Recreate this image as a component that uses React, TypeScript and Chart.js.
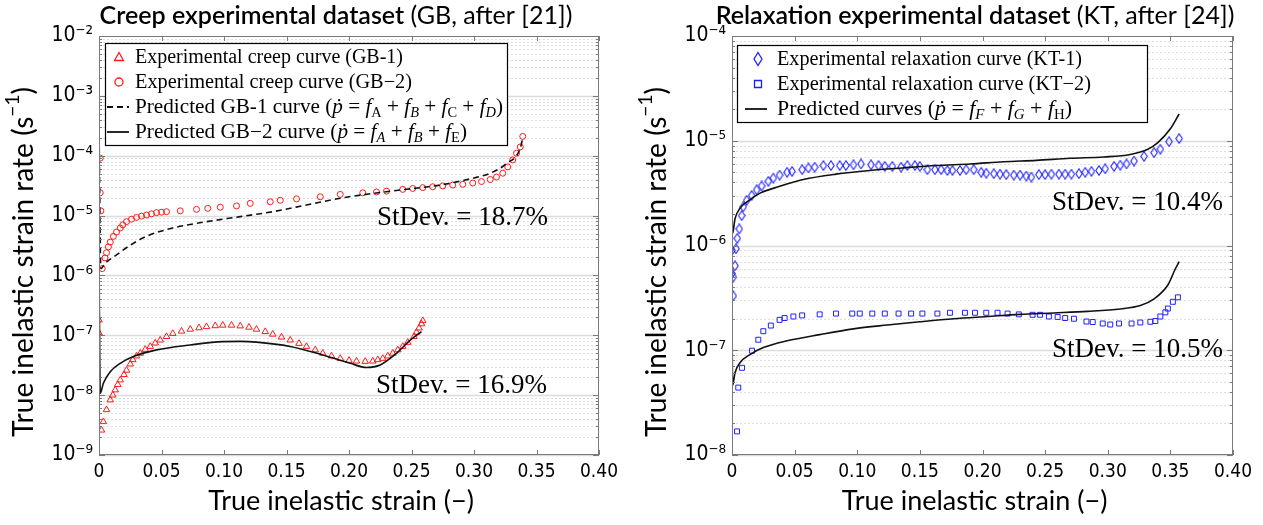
import React, { useEffect, useRef } from 'react';
import { Chart, registerables } from 'chart.js';
Chart.register(...registerables);

// ---------------- DATA ----------------
// Left panel: creep dataset (GB)
const gb1ExpStrain = [0, 0, 0.002, 0.0035, 0.006, 0.009, 0.011, 0.013, 0.015, 0.017, 0.02, 0.022, 0.025, 0.027, 0.03, 0.033, 0.037, 0.041, 0.045, 0.049, 0.054, 0.059, 0.066, 0.073, 0.08, 0.086, 0.093, 0.099, 0.106, 0.113, 0.12, 0.126, 0.133, 0.139, 0.146, 0.153, 0.16, 0.166, 0.173, 0.179, 0.186, 0.193, 0.2, 0.206, 0.213, 0.219, 0.223, 0.227, 0.231, 0.235, 0.239, 0.243, 0.247, 0.252, 0.254, 0.256, 0.258, 0.259];
const gb1ExpRate = [1.8e-7, 1.1e-7, 2.6e-9, 3.6e-9, 5.7e-9, 8.3e-9, 1.0e-8, 1.22e-8, 1.5e-8, 1.79e-8, 2.2e-8, 2.6e-8, 3.3e-8, 3.9e-8, 4.5e-8, 5.0e-8, 5.8e-8, 6.5e-8, 7.4e-8, 8.3e-8, 9.5e-8, 1.07e-7, 1.17e-7, 1.26e-7, 1.33e-7, 1.39e-7, 1.44e-7, 1.47e-7, 1.47e-7, 1.43e-7, 1.36e-7, 1.26e-7, 1.15e-7, 1.04e-7, 9.3e-8, 8.3e-8, 7.3e-8, 6.5e-8, 5.7e-8, 5.0e-8, 4.5e-8, 4.1e-8, 3.8e-8, 3.7e-8, 3.65e-8, 3.7e-8, 3.9e-8, 4.1e-8, 4.5e-8, 5.0e-8, 5.7e-8, 6.5e-8, 7.6e-8, 9.5e-8, 1.12e-7, 1.32e-7, 1.55e-7, 1.75e-7];

const gb2ExpStrain = [0.001, 0.001, 0.0015, 0.0025, 0.0048, 0.006, 0.0075, 0.009, 0.0115, 0.014, 0.017, 0.019, 0.022, 0.026, 0.03, 0.034, 0.038, 0.042, 0.046, 0.05, 0.054, 0.065, 0.078, 0.087, 0.097, 0.11, 0.121, 0.137, 0.145, 0.158, 0.177, 0.193, 0.211, 0.222, 0.23, 0.243, 0.251, 0.259, 0.267, 0.275, 0.283, 0.291, 0.299, 0.306, 0.313, 0.318, 0.323, 0.327, 0.331, 0.334, 0.337, 0.339];
const gb2ExpRate = [9.1e-5, 2.4e-5, 1.2e-5, 1.3e-6, 1.96e-6, 2.4e-6, 3.0e-6, 3.6e-6, 4.5e-6, 5.3e-6, 6.2e-6, 7.0e-6, 7.9e-6, 8.7e-6, 9.3e-6, 9.8e-6, 1.02e-5, 1.07e-5, 1.12e-5, 1.14e-5, 1.16e-5, 1.2e-5, 1.27e-5, 1.32e-5, 1.38e-5, 1.45e-5, 1.6e-5, 1.7e-5, 1.8e-5, 1.9e-5, 2.06e-5, 2.26e-5, 2.4e-5, 2.48e-5, 2.56e-5, 2.74e-5, 2.84e-5, 2.93e-5, 3.03e-5, 3.13e-5, 3.23e-5, 3.33e-5, 3.5e-5, 3.7e-5, 4.0e-5, 4.4e-5, 5.1e-5, 6.5e-5, 8.5e-5, 1.1e-4, 1.4e-4, 2.1e-4];

const gb1PredStrain = [0, 0.0015, 0.005, 0.014, 0.025, 0.038, 0.059, 0.086, 0.113, 0.139, 0.166, 0.193, 0.219, 0.246, 0.273, 0.299, 0.313, 0.326, 0.337, 0.339];
const gb1PredRate = [3e-4, 1.3e-6, 1.6e-6, 2.2e-6, 3.2e-6, 4.5e-6, 6.2e-6, 7.9e-6, 9.6e-6, 1.16e-5, 1.5e-5, 1.95e-5, 2.34e-5, 2.75e-5, 3.24e-5, 4.2e-5, 5.1e-5, 7.4e-5, 1.33e-4, 2.0e-4];

const gb2PredStrain = [0, 0.001, 0.0035, 0.009, 0.017, 0.027, 0.046, 0.073, 0.099, 0.113, 0.126, 0.153, 0.179, 0.201, 0.214, 0.225, 0.238, 0.249, 0.258];
const gb2PredRate = [2e-6, 1.07e-8, 1.58e-8, 2.46e-8, 3.4e-8, 4.37e-8, 5.7e-8, 6.9e-8, 7.85e-8, 7.9e-8, 7.7e-8, 6.5e-8, 4.7e-8, 3.4e-8, 2.9e-8, 3.2e-8, 5.0e-8, 8.3e-8, 1.15e-7];

// Right panel: relaxation dataset (KT)
const kt1ExpStrain = [0, 0.001, 0.001, 0, 0.0024, 0.0032, 0.0042, 0.0058, 0.0077, 0.009, 0.0117, 0.0157, 0.0197, 0.0237, 0.029, 0.033, 0.038, 0.044, 0.048, 0.056, 0.061, 0.066, 0.073, 0.079, 0.086, 0.091, 0.097, 0.103, 0.111, 0.117, 0.122, 0.128, 0.135, 0.14, 0.146, 0.15, 0.156, 0.162, 0.167, 0.172, 0.176, 0.182, 0.187, 0.193, 0.199, 0.203, 0.209, 0.214, 0.219, 0.225, 0.23, 0.235, 0.239, 0.245, 0.25, 0.255, 0.261, 0.266, 0.271, 0.277, 0.282, 0.287, 0.293, 0.298, 0.305, 0.31, 0.315, 0.321, 0.329, 0.337, 0.342, 0.349, 0.357];
const kt1ExpRate = [5.4e-7, 5.0e-7, 3.3e-7, 9.0e-7, 6.4e-7, 9.3e-7, 1.17e-6, 1.44e-6, 1.93e-6, 2.34e-6, 2.7e-6, 3.0e-6, 3.4e-6, 3.7e-6, 4.1e-6, 4.4e-6, 4.7e-6, 5.0e-6, 5.1e-6, 5.3e-6, 5.5e-6, 5.6e-6, 5.8e-6, 5.8e-6, 5.8e-6, 5.8e-6, 5.9e-6, 6.0e-6, 5.9e-6, 5.8e-6, 5.7e-6, 5.7e-6, 5.6e-6, 5.8e-6, 5.8e-6, 5.7e-6, 5.3e-6, 5.3e-6, 5.3e-6, 5.2e-6, 5.2e-6, 5.2e-6, 5.3e-6, 5.3e-6, 5.0e-6, 4.9e-6, 4.85e-6, 4.8e-6, 4.75e-6, 4.7e-6, 4.7e-6, 4.6e-6, 4.5e-6, 4.75e-6, 4.75e-6, 4.8e-6, 4.8e-6, 4.8e-6, 4.8e-6, 4.85e-6, 5.0e-6, 5.1e-6, 5.2e-6, 5.4e-6, 5.7e-6, 5.85e-6, 6.0e-6, 6.4e-6, 7.1e-6, 7.7e-6, 8.3e-6, 9.8e-6, 1.05e-5];

const kt2ExpStrain = [0.004, 0.005, 0.008, 0.016, 0.021, 0.025, 0.031, 0.038, 0.042, 0.049, 0.056, 0.07, 0.083, 0.096, 0.102, 0.112, 0.122, 0.133, 0.143, 0.152, 0.164, 0.174, 0.186, 0.194, 0.203, 0.212, 0.22, 0.229, 0.24, 0.246, 0.253, 0.26, 0.266, 0.273, 0.283, 0.288, 0.296, 0.302, 0.309, 0.319, 0.326, 0.334, 0.338, 0.342, 0.346, 0.348, 0.352, 0.356];
const kt2ExpRate = [1.68e-8, 4.4e-8, 6.8e-8, 9.9e-8, 1.26e-7, 1.52e-7, 1.72e-7, 1.95e-7, 2.03e-7, 2.1e-7, 2.15e-7, 2.2e-7, 2.24e-7, 2.24e-7, 2.24e-7, 2.24e-7, 2.24e-7, 2.24e-7, 2.24e-7, 2.24e-7, 2.24e-7, 2.28e-7, 2.28e-7, 2.28e-7, 2.28e-7, 2.28e-7, 2.24e-7, 2.2e-7, 2.18e-7, 2.18e-7, 2.1e-7, 2.08e-7, 2.03e-7, 2.0e-7, 1.88e-7, 1.86e-7, 1.8e-7, 1.76e-7, 1.8e-7, 1.8e-7, 1.84e-7, 1.87e-7, 1.9e-7, 2.1e-7, 2.3e-7, 2.5e-7, 2.9e-7, 3.2e-7];

const kt1PredStrain = [0, 0.0005, 0.0024, 0.0064, 0.0117, 0.0224, 0.038, 0.057, 0.083, 0.11, 0.136, 0.163, 0.19, 0.217, 0.243, 0.27, 0.297, 0.318, 0.332, 0.34, 0.35, 0.357];
const kt1PredRate = [2.2e-6, 1.3e-6, 1.8e-6, 2.27e-6, 2.6e-6, 3.16e-6, 3.67e-6, 4.27e-6, 4.8e-6, 5.2e-6, 5.5e-6, 5.8e-6, 6.0e-6, 6.3e-6, 6.5e-6, 6.8e-6, 7.0e-6, 7.4e-6, 8.3e-6, 9.6e-6, 1.3e-5, 1.8e-5];

const kt2PredStrain = [0, 0.0005, 0.0024, 0.0064, 0.0144, 0.025, 0.044, 0.07, 0.097, 0.124, 0.15, 0.177, 0.204, 0.23, 0.257, 0.284, 0.31, 0.326, 0.337, 0.348, 0.354, 0.357];
const kt2PredRate = [2.0e-7, 4.6e-8, 6.1e-8, 7.6e-8, 9.1e-8, 1.06e-7, 1.23e-7, 1.41e-7, 1.6e-7, 1.74e-7, 1.87e-7, 2.0e-7, 2.1e-7, 2.2e-7, 2.27e-7, 2.35e-7, 2.48e-7, 2.67e-7, 3.1e-7, 4.2e-7, 6.0e-7, 7.0e-7];

// Axes
const xTickValues = [0, 0.05, 0.1, 0.15, 0.2, 0.25, 0.3, 0.35, 0.4];
const xTickLabels = ['0', '0.05', '0.10', '0.15', '0.20', '0.25', '0.30', '0.35', '0.40'];
const leftYTicks = [1e-9, 1e-8, 1e-7, 1e-6, 1e-5, 1e-4, 1e-3, 1e-2];
const rightYTicks = [1e-8, 1e-7, 1e-6, 1e-5, 1e-4];

// Texts
const leftTitleBold = 'Creep experimental dataset';
const leftTitleRest = ' (GB, after [21])';
const rightTitleBold = 'Relaxation experimental dataset';
const rightTitleRest = ' (KT, after [24])';
const yTitleMain = 'True inelastic strain rate (s';
const xTitle = 'True inelastic strain (\u2212)';
const leftStdevs = ['StDev. = 18.7%', 'StDev. = 16.9%'];
const rightStdevs = ['StDev. = 10.4%', 'StDev. = 10.5%'];

// ---------------- STYLE ----------------
const TICK_FONT = '"Liberation Sans Narrow", "DejaVu Sans Condensed", "Liberation Sans", sans-serif';
const SANS = 'Lato, "Open Sans", sans-serif';
const SERIF = '"Liberation Serif", "DejaVu Serif", serif';
const RED = '#ff1a1a';
const BLUE = '#2020ff';

type Seg = { t: string; i?: boolean; sub?: boolean; sup?: boolean; b?: boolean };

function segFont(s: Seg, size: number, fam: string) {
  const fs = s.sub || s.sup ? size * 0.68 : size;
  return `${s.i ? 'italic ' : ''}${s.b ? '600 ' : ''}${fs}px ${fam}`;
}
function richWidth(ctx: CanvasRenderingContext2D, segs: Seg[], size: number, fam: string) {
  let w = 0;
  for (const s of segs) { ctx.font = segFont(s, size, fam); w += ctx.measureText(s.t).width; }
  return w;
}
function drawRich(ctx: CanvasRenderingContext2D, segs: Seg[], x: number, y: number, size: number, fam: string) {
  let cx = x;
  for (const s of segs) {
    ctx.font = segFont(s, size, fam);
    const dy = s.sub ? size * 0.22 : s.sup ? -size * 0.4 : 0;
    ctx.fillText(s.t, cx, y + dy);
    cx += ctx.measureText(s.t).width;
  }
}
function drawRichFit(ctx: CanvasRenderingContext2D, segs: Seg[], x: number, xEnd: number, y: number, size: number, fam: string) {
  const w = richWidth(ctx, segs, size, fam);
  const k = (xEnd - x) / w;
  ctx.save();
  ctx.translate(x, y);
  ctx.scale(k, 1);
  drawRich(ctx, segs, 0, 0, size, fam);
  ctx.restore();
}

const sup: Record<string, string> = { '-': '\u207B', '0': '\u2070', '1': '\u00B9', '2': '\u00B2', '3': '\u00B3', '4': '\u2074', '5': '\u2075', '6': '\u2076', '7': '\u2077', '8': '\u2078', '9': '\u2079' };
const powLabel = (v: number) => '10' + String(Math.round(Math.log10(v))).split('').map((c) => sup[c]).join('');

const toXY = (xs: number[], ys: number[]) => xs.map((x, i) => ({ x, y: ys[i] }));

function makeDiamond(color: string) {
  const c = document.createElement('canvas');
  c.width = 8; c.height = 11;
  const g = c.getContext('2d')!;
  g.strokeStyle = color; g.lineWidth = 1.1;
  g.beginPath(); g.moveTo(4, 0.8); g.lineTo(7.2, 5.5); g.lineTo(4, 10.2); g.lineTo(0.8, 5.5); g.closePath(); g.stroke();
  return c;
}

type LegendRow = { marker: string; color: string; segs: Seg[]; end: number };
type Deco = {
  box: { x: number; y: number; w: number; h: number };
  markerX: number; lineX0: number; lineX1: number; textX: number; rowBase: number[];
  rows: LegendRow[];
  titleBold: string; titleRest: string; titleCx: number;
  yTitleCx: number;
  stdev: { t: string; x: number; y: number }[];
};

function makePlugin(d: Deco) {
  return {
    id: 'deco',
    beforeDatasetsDraw(chart: any) {
      const { ctx, chartArea: a, scales } = chart;
      const y = scales.y;
      ctx.save();
      const lo = Math.round(Math.log10(y.min)), hi = Math.round(Math.log10(y.max));
      for (let e = lo; e < hi; e++) {
        for (let k = 1; k <= 9; k++) {
          const py = Math.round(y.getPixelForValue(k * Math.pow(10, e))) + 0.5;
          ctx.beginPath();
          if (k === 1) { ctx.setLineDash([]); ctx.strokeStyle = '#dcdcdc'; ctx.lineWidth = 1.5; }
          else { ctx.setLineDash([2, 2]); ctx.strokeStyle = '#dedede'; ctx.lineWidth = 1; }
          ctx.moveTo(a.left, py); ctx.lineTo(a.right, py); ctx.stroke();
        }
      }
      ctx.restore();
    },
    afterDatasetsDraw(chart: any) {
      const { ctx, chartArea: a, scales } = chart;
      const x = scales.x, y = scales.y;
      ctx.save();
      ctx.strokeStyle = '#7a7a7a'; ctx.lineWidth = 1; ctx.setLineDash([]);
      ctx.strokeRect(a.left + 0.5, a.top + 0.5, a.right - a.left - 1, a.bottom - a.top - 1);
      ctx.beginPath();
      for (const v of xTickValues) {
        const px = Math.round(x.getPixelForValue(v)) + 0.5;
        ctx.moveTo(px, a.bottom); ctx.lineTo(px, a.bottom - 5);
        ctx.moveTo(px, a.top); ctx.lineTo(px, a.top + 5);
      }
      const lo = Math.round(Math.log10(y.min)), hi = Math.round(Math.log10(y.max));
      for (let e = lo; e < hi; e++) {
        for (let k = 1; k <= 9; k++) {
          const py = Math.round(y.getPixelForValue(k * Math.pow(10, e))) + 0.5;
          const len = k === 1 ? 6 : 3;
          ctx.moveTo(a.left, py); ctx.lineTo(a.left + len, py);
          ctx.moveTo(a.right, py); ctx.lineTo(a.right - len, py);
        }
      }
      ctx.stroke();
      ctx.restore();
    },
    afterDraw(chart: any) {
      const { ctx, chartArea: a } = chart;
      ctx.save();
      ctx.fillStyle = '#000';
      ctx.textBaseline = 'alphabetic';
      ctx.textAlign = 'left';
      const b = d.box;
      ctx.fillStyle = '#fff';
      ctx.fillRect(b.x, b.y, b.w, b.h);
      ctx.strokeStyle = '#000'; ctx.lineWidth = 1.2;
      ctx.strokeRect(b.x + 0.5, b.y + 0.5, b.w, b.h);
      d.rows.forEach((r, i) => {
        const base = d.rowBase[i];
        const cy = base - 6;
        ctx.strokeStyle = r.color; ctx.lineWidth = 1.3; ctx.setLineDash([]);
        ctx.beginPath();
        if (r.marker === 'triangle') {
          ctx.moveTo(d.markerX, cy - 4.5); ctx.lineTo(d.markerX + 4.5, cy + 3.5); ctx.lineTo(d.markerX - 4.5, cy + 3.5); ctx.closePath(); ctx.stroke();
        } else if (r.marker === 'circle') {
          ctx.arc(d.markerX, cy, 4, 0, Math.PI * 2); ctx.stroke();
        } else if (r.marker === 'diamond') {
          ctx.moveTo(d.markerX, cy - 6.5); ctx.lineTo(d.markerX + 4, cy); ctx.lineTo(d.markerX, cy + 6.5); ctx.lineTo(d.markerX - 4, cy); ctx.closePath(); ctx.stroke();
        } else if (r.marker === 'square') {
          ctx.rect(d.markerX - 3.5, cy - 3.5, 7, 7); ctx.stroke();
        } else {
          ctx.lineWidth = 1.8;
          if (r.marker === 'dash') ctx.setLineDash([6, 4]);
          ctx.moveTo(d.lineX0, cy); ctx.lineTo(d.lineX1, cy); ctx.stroke();
          ctx.setLineDash([]);
        }
        ctx.fillStyle = '#000';
        drawRichFit(ctx, r.segs, d.textX, r.end, base, 20, SERIF);
      });
      ctx.fillStyle = '#000';
      for (const s of d.stdev) {
        drawRichFit(ctx, [{ t: s.t }], s.x, s.x + 171, s.y, 27, SERIF);
      }
      const tSegsRef: Seg[] = [{ t: leftTitleBold, b: true }, { t: leftTitleRest }];
      const ref = richWidth(ctx, tSegsRef, 22, SANS);
      const tSize = 22 * 473 / ref;
      const tSegs: Seg[] = [{ t: d.titleBold, b: true }, { t: d.titleRest }];
      const tw = richWidth(ctx, tSegs, tSize, SANS);
      drawRich(ctx, tSegs, d.titleCx - tw / 2, 24, tSize, SANS);
      const ySegs: Seg[] = [{ t: yTitleMain }, { t: '\u22121', sup: true }, { t: ')' }];
      const yw0 = richWidth(ctx, ySegs, 27, SANS);
      const ySize = 27 * 350 / yw0;
      const yw = richWidth(ctx, ySegs, ySize, SANS);
      ctx.save();
      ctx.translate(d.yTitleCx, 262);
      ctx.rotate(-Math.PI / 2);
      ctx.textBaseline = 'middle';
      drawRich(ctx, ySegs, -yw / 2, 0, ySize, SANS);
      ctx.restore();
      ctx.font = `27px ${SANS}`;
      ctx.textAlign = 'center';
      ctx.textBaseline = 'alphabetic';
      ctx.fillText(xTitle, (a.left + a.right) / 2 - 8, 510);
      ctx.restore();
    },
  };
}

function buildConfig(datasets: any[], yTicks: number[], deco: Deco, yAxisW: number, padRight: number) {
  return {
    type: 'scatter',
    data: { datasets },
    options: {
      responsive: false,
      animation: false,
      events: [],
      layout: { padding: { top: 36, right: padRight, left: 0, bottom: 0 } },
      plugins: { legend: { display: false }, tooltip: { enabled: false }, title: { display: false } },
      scales: {
        x: {
          type: 'linear', position: 'bottom', min: 0, max: 0.4,
          afterBuildTicks: (s: any) => { s.ticks = xTickValues.map((v) => ({ value: v })); },
          afterFit: (s: any) => { s.height = 70; },
          grid: { display: false, drawTicks: false },
          border: { display: false },
          ticks: {
            autoSkip: false, maxRotation: 0, padding: 6, color: '#000',
            font: { family: TICK_FONT, size: 19 },
            callback: (_v: any, i: number) => xTickLabels[i],
          },
        },
        y: {
          type: 'logarithmic', position: 'left', min: yTicks[0], max: yTicks[yTicks.length - 1],
          afterBuildTicks: (s: any) => { s.ticks = yTicks.map((v) => ({ value: v })); },
          afterFit: (s: any) => { s.width = yAxisW; },
          grid: { display: false, drawTicks: false },
          border: { display: false },
          ticks: {
            autoSkip: false, padding: 6, color: '#000',
            font: { family: TICK_FONT, size: 21 },
            callback: (v: any) => powLabel(Number(v)),
          },
        },
      },
    },
    plugins: [makePlugin(deco)],
  };
}

function lineDs(xs: number[], ys: number[], dash: number[]) {
  return {
    data: toXY(xs, ys), showLine: true, borderColor: '#111', borderWidth: 1.6, borderDash: dash,
    pointRadius: 0, pointHoverRadius: 0, cubicInterpolationMode: 'monotone', fill: false, order: 1,
  };
}
function pointDs(xs: number[], ys: number[], style: any, color: string, r: number) {
  return {
    data: toXY(xs, ys), showLine: false, pointStyle: style, pointRadius: r, pointHoverRadius: r,
    borderColor: color, pointBorderColor: color, backgroundColor: 'rgba(0,0,0,0)',
    pointBackgroundColor: 'rgba(0,0,0,0)', pointBorderWidth: 1, order: 5,
  };
}

function Panel({ make, left, width }: { make: () => any; left: number; width: number }) {
  const ref = useRef<HTMLCanvasElement | null>(null);
  useEffect(() => {
    if (!ref.current) return;
    const chart = new Chart(ref.current, make());
    return () => chart.destroy();
  }, []);
  return (
    <div style={{ position: 'absolute', left, top: 0, width, height: 525 }}>
      <canvas ref={ref} width={width} height={525} style={{ display: 'block', width, height: 525 }} />
    </div>
  );
}

const leftDeco: Deco = {
  box: { x: 105, y: 43, w: 402, h: 102 },
  markerX: 119, lineX0: 107, lineX1: 129, textX: 135, rowBase: [63, 88, 113, 138],
  rows: [
    { marker: 'triangle', color: RED, segs: [{ t: 'Experimental creep curve (GB-1)' }], end: 403 },
    { marker: 'circle', color: RED, segs: [{ t: 'Experimental creep curve (GB\u22122)' }], end: 412 },
    {
      marker: 'dash', color: '#111', end: 503, segs: [
        { t: 'Predicted GB-1 curve (' }, { t: '\u1E57', i: true }, { t: ' = ' }, { t: 'f', i: true }, { t: 'A', sub: true },
        { t: ' + ' }, { t: 'f', i: true }, { t: 'B', sub: true, i: true }, { t: ' + ' }, { t: 'f', i: true }, { t: 'C', sub: true },
        { t: ' + ' }, { t: 'f', i: true }, { t: 'D', sub: true, i: true }, { t: ')' },
      ],
    },
    {
      marker: 'line', color: '#111', end: 467, segs: [
        { t: 'Predicted GB\u22122 curve (' }, { t: '\u1E57', i: true }, { t: ' = ' }, { t: 'f', i: true }, { t: 'A', sub: true, i: true },
        { t: ' + ' }, { t: 'f', i: true }, { t: 'B', sub: true, i: true }, { t: ' + ' }, { t: 'f', i: true }, { t: 'E', sub: true }, { t: ')' },
      ],
    },
  ],
  titleBold: leftTitleBold, titleRest: leftTitleRest, titleCx: 336,
  yTitleCx: 24,
  stdev: [{ t: leftStdevs[0], x: 377, y: 225 }, { t: leftStdevs[1], x: 376, y: 393 }],
};

const RX = 632;
const rightDeco: Deco = {
  box: { x: 737 - RX, y: 45, w: 410, h: 77 },
  markerX: 758 - RX, lineX0: 745 - RX, lineX1: 767 - RX, textX: 777 - RX, rowBase: [65, 90, 115],
  rows: [
    { marker: 'diamond', color: BLUE, segs: [{ t: 'Experimental relaxation curve (KT-1)' }], end: 1082 - RX },
    { marker: 'square', color: BLUE, segs: [{ t: 'Experimental relaxation curve (KT\u22122)' }], end: 1091 - RX },
    {
      marker: 'line', color: '#111', end: 1072 - RX, segs: [
        { t: 'Predicted curves (' }, { t: '\u1E57', i: true }, { t: ' = ' }, { t: 'f', i: true }, { t: 'F', sub: true, i: true },
        { t: ' + ' }, { t: 'f', i: true }, { t: 'G', sub: true, i: true }, { t: ' + ' }, { t: 'f', i: true }, { t: 'H', sub: true }, { t: ')' },
      ],
    },
  ],
  titleBold: rightTitleBold, titleRest: rightTitleRest, titleCx: 975 - RX,
  yTitleCx: 657 - RX,
  stdev: [{ t: rightStdevs[0], x: 1052 - RX, y: 210 }, { t: rightStdevs[1], x: 1052 - RX, y: 357 }],
};

export default function App() {
  const makeLeft = () => buildConfig([
    lineDs(gb1PredStrain, gb1PredRate, [6, 4]),
    lineDs(gb2PredStrain, gb2PredRate, []),
    pointDs(gb1ExpStrain, gb1ExpRate, 'triangle', RED, 3.8),
    pointDs(gb2ExpStrain, gb2ExpRate, 'circle', RED, 3),
  ], leftYTicks, leftDeco, 99, 33);
  const makeRight = () => {
    const diamond = makeDiamond(BLUE);
    return buildConfig([
      lineDs(kt1PredStrain, kt1PredRate, []),
      lineDs(kt2PredStrain, kt2PredRate, []),
      pointDs(kt1ExpStrain, kt1ExpRate, diamond, BLUE, 4),
      pointDs(kt2ExpStrain, kt2ExpRate, 'rect', BLUE, 3.5),
    ], rightYTicks, rightDeco, 100, 30);
  };
  return (
    <div style={{ position: 'absolute', left: 0, top: 0, width: 1263, height: 525, background: '#fff' }}>
      <Panel make={makeLeft} left={0} width={632} />
      <Panel make={makeRight} left={RX} width={631} />
    </div>
  );
}
